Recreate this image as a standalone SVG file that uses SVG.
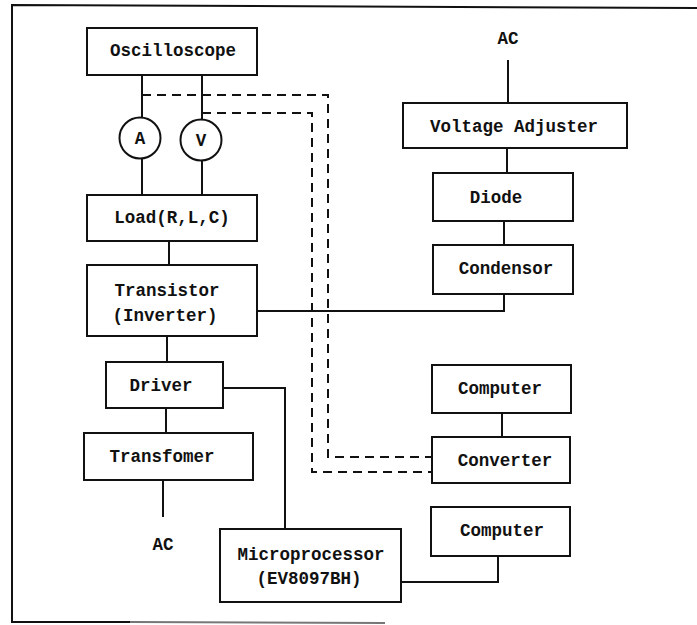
<svg xmlns="http://www.w3.org/2000/svg" width="697" height="625" viewBox="0 0 697 625">
<style>
.box{fill:#fff;stroke:#111;stroke-width:2}
.ln{fill:none;stroke:#111;stroke-width:2}
.dash{fill:none;stroke:#111;stroke-width:2;stroke-dasharray:9 6}
text{font-family:"Liberation Mono","DejaVu Sans Mono",monospace;font-weight:bold;font-size:17.5px;fill:#111;text-anchor:middle;dominant-baseline:central}
</style>
<rect width="697" height="625" fill="#fff"/>
<g id="frame">
<path class="ln" d="M697,8 L12,5 L12,622 L130,622"/>
<path d="M130,622 L385,623" stroke="#777" stroke-width="2" fill="none"/>
</g>
<g id="connectors">
<path class="ln" d="M142,75 L142,118"/>
<path class="ln" d="M202,75 L202,119"/>
<path class="ln" d="M142,159 L142,195"/>
<path class="ln" d="M202,161 L202,195"/>
<path class="ln" d="M169,241 L169,265"/>
<path class="ln" d="M167,336 L167,362"/>
<path class="ln" d="M166,408 L166,433"/>
<path class="ln" d="M163,480 L163,517"/>
<path class="ln" d="M223,388 L285,388 L285,529"/>
<path class="ln" d="M508,60 L508,103"/>
<path class="ln" d="M507,148 L507,173"/>
<path class="ln" d="M504,221 L504,245"/>
<path class="ln" d="M504,294 L504,311 L257,311"/>
<path class="ln" d="M502,413 L502,437"/>
<path class="ln" d="M498,556 L498,582 L401,582"/>
<path class="dash" d="M142,95 L328,95 L328,457 L432,457"/>
<path class="dash" d="M202,113 L312,113 L312,472 L432,472"/>
</g>
<g id="oscilloscope"><rect class="box" x="87" y="28" width="170" height="47"/><text x="173" y="51">Oscilloscope</text></g>
<g id="ammeter"><circle class="box" cx="140" cy="138" r="20.5"/><text x="140" y="139">A</text></g>
<g id="voltmeter"><circle class="box" cx="201" cy="140" r="20.5"/><text x="201" y="141">V</text></g>
<g id="load"><rect class="box" x="87" y="195" width="170" height="46"/><text x="172" y="218">Load(R,L,C)</text></g>
<g id="transistor"><rect class="box" x="87" y="265" width="170" height="71"/><text x="167" y="291">Transistor</text><text x="165" y="316">(Inverter)</text></g>
<g id="driver"><rect class="box" x="106" y="362" width="117" height="46"/><text x="161" y="386">Driver</text></g>
<g id="transformer"><rect class="box" x="84" y="433" width="169" height="47"/><text x="162" y="457">Transfomer</text></g>
<g id="ac-bottom"><text x="163" y="545">AC</text></g>
<g id="microprocessor"><rect class="box" x="220" y="529" width="181" height="73"/><text x="311" y="555">Microprocessor</text><text x="309" y="579">(EV8097BH)</text></g>
<g id="ac-top"><text x="508" y="39">AC</text></g>
<g id="voltage-adjuster"><rect class="box" x="403" y="103" width="224" height="45"/><text x="514" y="127">Voltage Adjuster</text></g>
<g id="diode"><rect class="box" x="433" y="173" width="140" height="48"/><text x="496" y="198">Diode</text></g>
<g id="condensor"><rect class="box" x="433" y="245" width="140" height="49"/><text x="506" y="269">Condensor</text></g>
<g id="computer-1"><rect class="box" x="432" y="365" width="139" height="48"/><text x="500" y="389">Computer</text></g>
<g id="converter"><rect class="box" x="432" y="437" width="138" height="46"/><text x="505" y="461">Converter</text></g>
<g id="computer-2"><rect class="box" x="431" y="507" width="139" height="49"/><text x="502" y="531">Computer</text></g>
</svg>
